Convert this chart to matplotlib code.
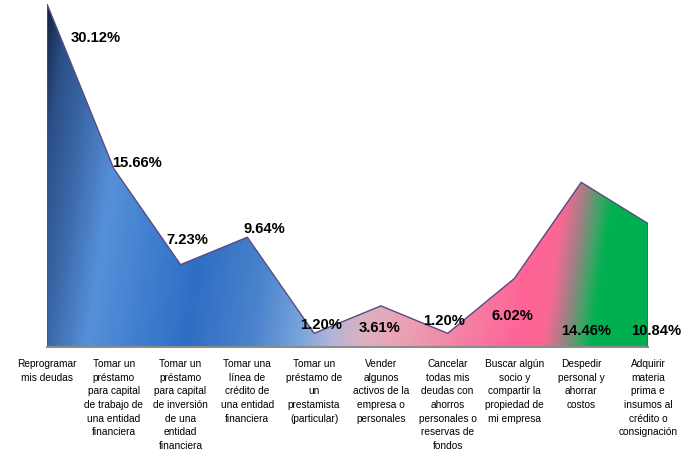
import numpy as np
import matplotlib
matplotlib.use("Agg")
import matplotlib.pyplot as plt
from matplotlib.colors import LinearSegmentedColormap

categories = [
    "Reprogramar\nmis deudas",
    "Tomar un\npréstamo\npara capital\nde trabajo de\nuna entidad\nfinanciera",
    "Tomar un\npréstamo\npara capital\nde inversión\nde una\nentidad\nfinanciera",
    "Tomar una\nlínea de\ncrédito de\nuna entidad\nfinanciera",
    "Tomar un\npréstamo de\nun\nprestamista\n(particular)",
    "Vender\nalgunos\nactivos de la\nempresa o\npersonales",
    "Cancelar\ntodas mis\ndeudas con\nahorros\npersonales o\nreservas de\nfondos",
    "Buscar algún\nsocio y\ncompartir la\npropiedad de\nmi empresa",
    "Despedir\npersonal y\nahorrar\ncostos",
    "Adquirir\nmateria\nprima e\ninsumos al\ncrédito o\nconsignación",
]
values = [30.12, 15.66, 7.23, 9.64, 1.20, 3.61, 1.20, 6.02, 14.46, 10.84]
value_labels = ["30.12%", "15.66%", "7.23%", "9.64%", "1.20%", "3.61%", "1.20%", "6.02%", "14.46%", "10.84%"]

# label offsets in pixels (dx, dy) relative to each vertex
label_offsets = [(49, -33), (23, 7), (7, 26), (17, 9), (7, 9),
                 (-1, -21), (-4, 13), (-2, -37), (5, -148), (8, -106)]

font = "Liberation Sans"

W, H = 681, 456
fig = plt.figure(figsize=(W / 100, H / 100), dpi=100)
L, R, T, B = 47, 648, 5, 348
ax = fig.add_axes([L / W, (H - B) / H, (R - L) / W, (B - T) / H])

n = len(values)
x = np.arange(n)
ax.set_xlim(0, n - 1)
ax.set_ylim(0, max(values))

# gradient (tilted, mostly horizontal)
stops = [
    (0.000, "#132542"),
    (0.030, "#2b4e86"),
    (0.080, "#3c6aaa"),
    (0.137, "#5690da"),
    (0.200, "#4482d0"),
    (0.290, "#2f6ec4"),
    (0.390, "#4a82cc"),
    (0.467, "#7aa6dc"),
    (0.513, "#b4b4d8"),
    (0.559, "#dcb0c0"),
    (0.620, "#eaa2b4"),
    (0.727, "#f67ca2"),
    (0.800, "#ff6496"),
    (0.840, "#fa6894"),
    (0.870, "#a08084"),
    (0.895, "#40a466"),
    (0.915, "#00b050"),
    (1.000, "#00b050"),
]
cmap = LinearSegmentedColormap.from_list("g", stops)
xs = np.linspace(0, n - 1, 700)
ys = np.linspace(0, max(values), 400)
XX, YY = np.meshgrid(xs, ys)
px = XX * (R - L) / (n - 1)
ph = YY * (B - T) / max(values)
t = (px - 0.15 * ph)
tmin, tmax = -0.15 * (B - T), (R - L)
tt = (t - tmin) / (tmax - tmin)
im = ax.imshow(tt, cmap=cmap, vmin=0, vmax=1, extent=[0, n - 1, 0, max(values)],
               origin="lower", aspect="auto", interpolation="bilinear", zorder=1)
poly = ax.fill_between(x, values, 0, facecolor="none", edgecolor="none")
path = poly.get_paths()[0]
im.set_clip_path(path, transform=ax.transData)

ax.plot(np.r_[x[0], x, x[-1]], np.r_[0, values, 0], color="#5a4a82", lw=1.0, zorder=3)

for sp in ["top", "right", "left"]:
    ax.spines[sp].set_visible(False)
ax.spines["bottom"].set_color("#8c8c8c")
ax.spines["bottom"].set_linewidth(1.5)
ax.spines["bottom"].set_zorder(4)
ax.set_yticks([])
ax.set_xticks(x)
ax.set_xticklabels(categories, family=font, fontsize=7.3, linespacing=1.45, va="top")
ax.tick_params(axis="x", length=0, pad=8)

for i, (v, lab) in enumerate(zip(values, value_labels)):
    dx, dy = label_offsets[i]
    ax.annotate(lab, (i, v), xytext=(dx, dy), textcoords="offset pixels",
                ha="center", va="center", fontsize=10.6, fontweight="bold",
                family=font, zorder=5, annotation_clip=False)

fig.savefig("out.png", dpi=100)
